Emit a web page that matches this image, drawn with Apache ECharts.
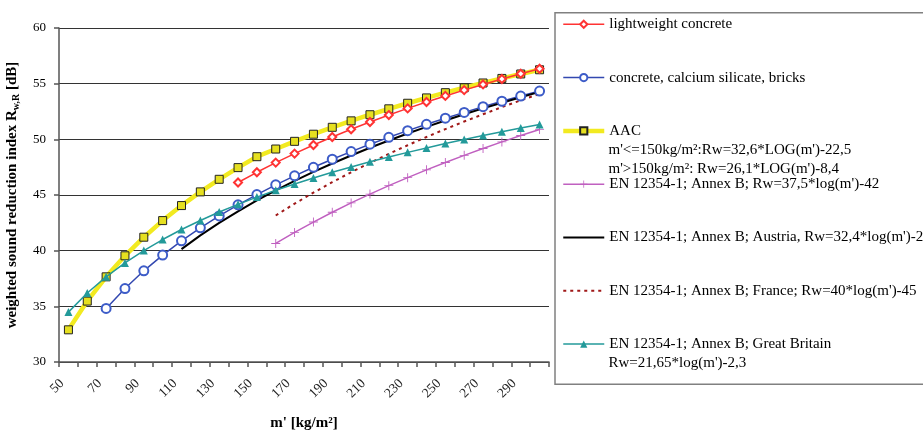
<!DOCTYPE html>
<html>
<head>
<meta charset="utf-8">
<script src="https://cdn.jsdelivr.net/npm/echarts@6/dist/echarts.min.js"></script>
<style>html,body{margin:0;padding:0;background:#fff}#c{width:923px;height:433px}</style>
</head>
<body>
<div id="c"></div>
<script>
var categories = ['50','60','70','80','90','100','110','120','130','140','150','160','170','180','190','200','210','220','230','240','250','260','270','280','290','300'];
var yTicks = [30, 35, 40, 45, 50, 55, 60];
var lightweightConcrete = [null,null,null,null,null,null,null,null,null,46.12,47.04,47.91,48.72,49.49,50.21,50.90,51.56,52.18,52.78,53.35,53.90,54.42,54.93,55.42,55.89,56.34];
var concreteBricks = [null,null,34.81,36.60,38.19,39.60,40.88,42.05,43.12,44.12,45.04,45.91,46.72,47.49,48.21,48.90,49.56,50.18,50.78,51.35,51.90,52.42,52.93,53.42,53.89,54.34];
var aac = [32.89,35.47,37.65,39.54,41.21,42.70,44.05,45.28,46.41,47.46,48.44,49.13,49.82,50.46,51.08,51.66,52.21,52.74,53.24,53.72,54.19,54.63,55.06,55.47,55.87,56.25];
var enGeneral = [null,null,null,null,null,null,null,null,null,null,null,40.65,41.64,42.57,43.45,44.29,45.08,45.84,46.56,47.26,47.92,48.56,49.18,49.77,50.34,50.89];
var enAustria = [null,null,null,null,null,null,40.14,41.37,42.49,43.53,44.51,45.41,46.27,47.07,47.83,48.55,49.24,49.89,50.52,51.12,51.69,52.25,52.78,53.29,53.78,54.26];
var enFrance = [null,null,null,null,null,null,null,null,null,null,null,43.16,44.22,45.21,46.15,47.04,47.89,48.70,49.47,50.21,50.92,51.60,52.25,52.89,53.50,54.08];
var enGB = [34.48,36.20,37.65,38.90,40.01,41.00,41.90,42.71,43.47,44.16,44.81,45.42,45.99,46.53,47.04,47.52,47.98,48.41,48.83,49.23,49.62,49.98,50.34,50.68,51.01,51.33];

var names = ['lightweight concrete','concrete, calcium silicate, bricks','AAC','EN 12354-1; Annex B; Rw=37,5*log(m\')-42','EN 12354-1; Annex B; Austria, Rw=32,4*log(m\')-26','EN 12354-1; Annex B; France; Rw=40*log(m\')-45','EN 12354-1; Annex B; Great Britain'];
var extraLines = [
  {text: 'm\'<=150kg/m²:Rw=32,6*LOG(m\')-22,5', y: 150},
  {text: 'm\'>150kg/m²: Rw=26,1*LOG(m\')-8,4', y: 169.5},
  {text: 'Rw=21,65*log(m\')-2,3', y: 363.5}
];

var FONT = '"Liberation Serif","Times New Roman",serif';
var chart = echarts.init(document.getElementById('c'));
var legLeft = 561, legW = 41;

chart.setOption({
  animation: false,
  backgroundColor: '#fff',
  grid: {left: 59, right: 374, top: 28, bottom: 71, outerBoundsMode: 'none', containLabel: false},
  xAxis: {
    type: 'category',
    data: categories,
    boundaryGap: true,
    name: "m' [kg/m²]",
    nameLocation: 'middle',
    nameGap: 54,
    nameTextStyle: {fontFamily: FONT, fontSize: 15, fontWeight: 'bold', color: '#000'},
    axisLine: {lineStyle: {color: '#555', width: 1.5}},
    axisTick: {show: true, interval: 0, alignWithLabel: false, length: 5, lineStyle: {color: '#555', width: 1.5}},
    axisLabel: {interval: 1, rotate: 45, margin: 13, fontFamily: FONT, fontSize: 13.5, color: '#222', padding: [0, 9, 0, 0]},
    splitLine: {show: false}
  },
  yAxis: {
    type: 'value',
    min: yTicks[0],
    max: yTicks[yTicks.length - 1],
    interval: 5,
    name: '{a|weighted sound reduction index R}{s|w,R}{a| [dB]}',
    nameLocation: 'middle',
    nameGap: 38,
    nameTextStyle: {
      rich: {
        a: {fontFamily: FONT, fontSize: 15, fontWeight: 'bold', color: '#000'},
        s: {fontFamily: FONT, fontSize: 10, fontWeight: 'bold', color: '#000', verticalAlign: 'bottom', padding: [7, 0, 0, 0]}
      }
    },
    axisLine: {show: true, lineStyle: {color: '#555', width: 1.5}},
    axisTick: {show: true, length: 5, lineStyle: {color: '#555', width: 1.5}},
    axisLabel: {margin: 13, fontFamily: FONT, fontSize: 13, color: '#000'},
    splitLine: {show: true, lineStyle: {color: '#333', width: 1}}
  },
  legend: {
    orient: 'vertical',
    left: legLeft,
    top: 15.8,
    padding: 0,
    itemWidth: legW,
    itemHeight: 9,
    itemGap: 36.3,
    selectedMode: false,
    data: names,
    lineStyle: {width: 'inherit'},
    textStyle: {fontFamily: FONT, fontSize: 15, color: '#000', lineHeight: 17}
  },
  graphic: [
    {type: 'rect', shape: {x: 555, y: 12.7, width: 420, height: 371.6}, style: {fill: 'none', stroke: '#808080', lineWidth: 1.5}, z: 0, silent: true}
  ].concat(extraLines.map(function (l) {
    return {type: 'text', x: legLeft + legW + 6.5, y: l.y, style: {text: l.text, fontFamily: FONT, fontSize: 15, fill: '#000', verticalAlign: 'middle'}, silent: true};
  })),
  series: [
    {name: names[0], type: 'line', data: lightweightConcrete, symbol: 'emptyDiamond', symbolSize: 8,
     lineStyle: {color: '#ff3333', width: 1.5}, itemStyle: {color: '#ff3333', borderWidth: 1}, z: 4},
    {name: names[1], type: 'line', data: concreteBricks, symbol: 'emptyCircle', symbolSize: 9,
     lineStyle: {color: '#3348b0', width: 1.5}, itemStyle: {color: '#3d5cc8', borderWidth: 1}, z: 4},
    {name: names[2], type: 'line', data: aac, symbol: 'rect', symbolSize: 8,
     lineStyle: {color: '#f2ea20', width: 4.5}, itemStyle: {color: '#e6e020', borderColor: '#222', borderWidth: 1}, z: 3},
    {name: names[3], type: 'line', data: enGeneral, symbol: 'path://M4.5,0H5.5V4.5H10V5.5H5.5V10H4.5V5.5H0V4.5H4.5Z', symbolSize: 9,
     lineStyle: {color: '#c060c0', width: 1.5}, itemStyle: {color: '#c060c0'}, z: 4},
    {name: names[4], type: 'line', data: enAustria, symbol: 'circle', showSymbol: false,
     lineStyle: {color: '#000', width: 2}, itemStyle: {color: '#000', opacity: 0}, z: 4},
    {name: names[5], type: 'line', data: enFrance, symbol: 'circle', showSymbol: false,
     lineStyle: {color: '#a01818', width: 2, type: [3, 4]}, itemStyle: {color: '#a01818', opacity: 0}, z: 4},
    {name: names[6], type: 'line', data: enGB, symbol: 'triangle', symbolSize: 8,
     lineStyle: {color: '#239a9a', width: 1.5}, itemStyle: {color: '#239a9a'}, z: 5}
  ]
});
</script>
</body>
</html>
